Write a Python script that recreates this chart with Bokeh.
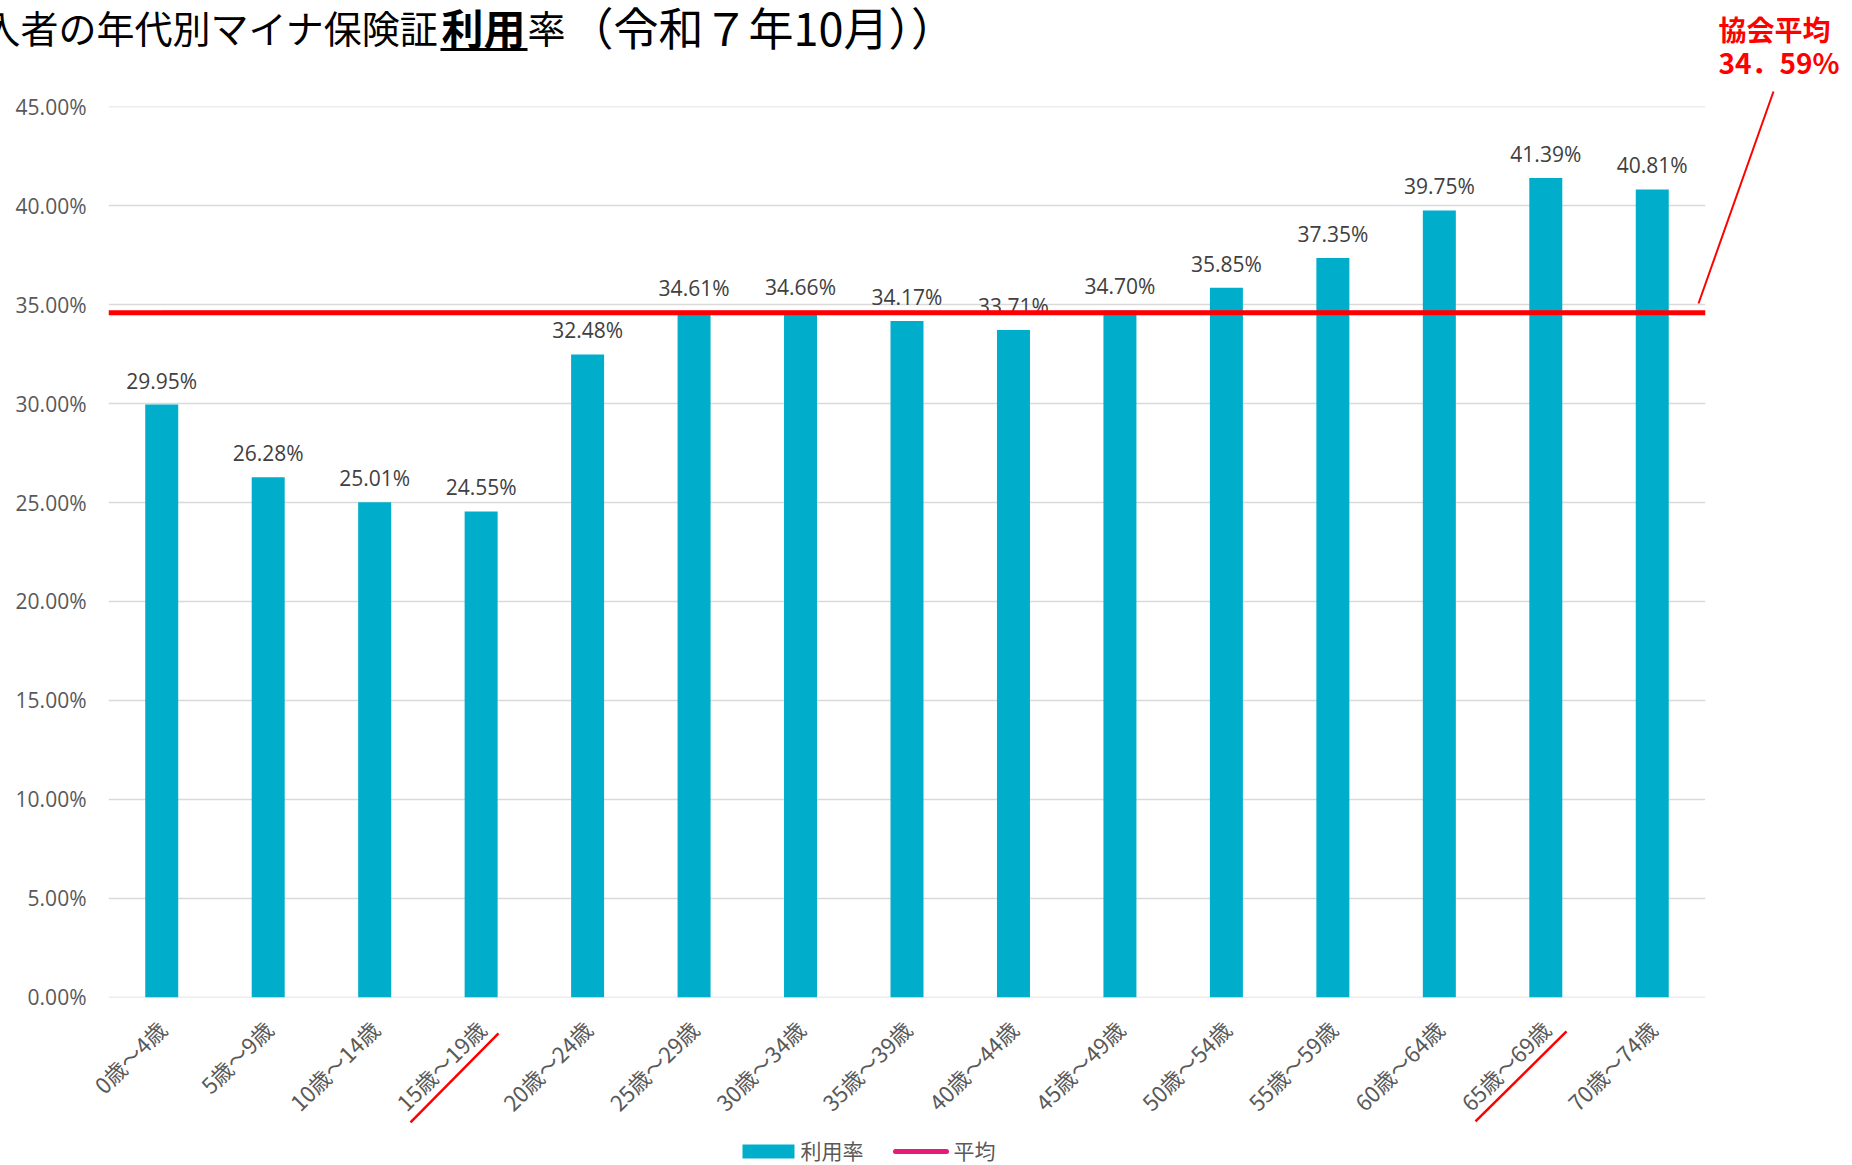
import math
from bokeh.plotting import figure
from bokeh.models import (FactorRange, Range1d, FixedTicker, PrintfTickFormatter, Span,
                          ColumnDataSource)
from bokeh.core.properties import value
from bokeh.embed import file_html
from bokeh.resources import INLINE

# ---------------- data ----------------
categories = ["0歳～4歳", "5歳～9歳", "10歳～14歳", "15歳～19歳", "20歳～24歳",
              "25歳～29歳", "30歳～34歳", "35歳～39歳", "40歳～44歳", "45歳～49歳",
              "50歳～54歳", "55歳～59歳", "60歳～64歳", "65歳～69歳", "70歳～74歳"]
usage_rate = [29.95, 26.28, 25.01, 24.55, 32.48, 34.61, 34.66, 34.17, 33.71, 34.70,
              35.85, 37.35, 39.75, 41.39, 40.81]
average_rate = 34.59
y_ticks = [0, 5, 10, 15, 20, 25, 30, 35, 40, 45]
series_names = ["利用率", "平均"]
title_parts = ["入者の年代別マイナ保険証", "利用", "率", "（令和７年10月））"]
note_lines = ["協会平均", "34．59%"]

# ---------------- geometry (window px) ----------------
W, H = 1852, 1165
FL, FR, FT, FB = 108, 1705, 106, 997   # frame edges in window px
NCAT = len(categories)
YMAX = 45
EPS = 0.002


def xd(px):
    return (px - FL) / (FR - FL) * NCAT


def yd(py):
    return (FB - py) / (FB - FT) * YMAX


BAR = "#00AECB"
PINK = "#E8197B"
GRAY = "#595959"
RED = "#FF0000"
JP = "Noto Sans CJK JP"

p = figure(width=W, height=H, x_range=FactorRange(factors=categories, range_padding=0),
           y_range=Range1d(-EPS, YMAX + EPS), output_backend="svg", toolbar_location=None,
           min_border_left=FL, min_border_top=FT,
           min_border_right=W - FR, min_border_bottom=H - FB)
p.outline_line_color = None
p.background_fill_color = "white"
p.border_fill_color = "white"

# axes
p.yaxis.ticker = FixedTicker(ticks=y_ticks)
p.yaxis.formatter = PrintfTickFormatter(format="%.2f%%")
p.yaxis.axis_line_color = None
p.yaxis.major_tick_line_color = None
p.yaxis.minor_tick_line_color = None
p.yaxis.major_label_standoff = 16
p.yaxis.major_label_text_font = "Open Sans"
p.yaxis.major_label_text_font_size = "21px"
p.yaxis.major_label_text_color = GRAY

p.xaxis.axis_line_color = None
p.xaxis.major_tick_line_color = None
p.xaxis.minor_tick_line_color = None
p.xaxis.major_label_orientation = math.pi / 4
p.xaxis.major_label_standoff = 21
p.xaxis.major_label_text_font = JP
p.xaxis.major_label_text_font_size = "22px"
p.xaxis.major_label_text_color = GRAY

p.xgrid.grid_line_color = None
p.ygrid.grid_line_color = "#D9D9D9"
p.ygrid.grid_line_width = 1.5

src = ColumnDataSource(dict(cat=categories, val=usage_rate,
                            lab=["%.2f%%" % v for v in usage_rate],
                            avg=[average_rate] * NCAT))

r_bar = p.vbar(x="cat", top="val", width=0.31, source=src, fill_color=BAR, line_color=None)
p.text(x="cat", y="val", text="lab", source=src, text_align="center", text_baseline="middle",
       y_offset=-24, text_font=value("Open Sans"), text_font_size="21px", text_color="#404040")
r_avg = p.line(x="cat", y="avg", source=src, line_color=PINK, line_width=4)

p.add_layout(Span(location=average_rate, dimension="width", line_color=RED, line_width=5))

# legend (drawn at overlay level, below the axis labels)
p.rect(x=[xd(768)], y=[yd(1151)], width=52, height=14, width_units="screen",
       height_units="screen", fill_color=BAR, line_color=None, level="overlay")
p.segment(x0=[xd(895)], y0=[yd(1151)], x1=[xd(946)], y1=[yd(1151)], line_color=PINK,
          line_width=5, line_cap="round", level="overlay")
p.text(x=[xd(800), xd(953)], y=[yd(1150), yd(1150)], text=series_names,
       text_baseline="middle", text_font=value(JP), text_font_size="21px",
       text_color=GRAY, level="overlay")

# title (overlay level so it may sit outside the frame)
p.text(x=[xd(-18), xd(527)], y=[yd(26), yd(26)], text=[title_parts[0], title_parts[2]],
       text_baseline="middle", text_font=value(JP), text_font_size="38px",
       text_color="black", level="overlay")
p.text(x=[xd(441)], y=[yd(26)], text=[title_parts[1]], text_baseline="middle",
       text_font=value(JP), text_font_size="42px", text_font_style="bold",
       text_color="black", level="overlay")
p.text(x=[xd(568)], y=[yd(26)], text=[title_parts[3]], text_baseline="middle",
       text_font=value(JP), text_font_size="45px", text_color="black", level="overlay")
p.segment(x0=[xd(440)], y0=[yd(49)], x1=[xd(527)], y1=[yd(49)],
          line_color="black", line_width=3, level="overlay")

# average note
p.text(x=[xd(1718), xd(1718)], y=[yd(28), yd(61)], text=note_lines, text_baseline="middle",
       text_font=value(JP), text_font_size="28px", text_font_style="bold",
       text_color=RED, level="overlay")
p.segment(x0=[xd(1773)], y0=[yd(91)], x1=[xd(1698)], y1=[yd(303)],
          line_color=RED, line_width=2, level="overlay")

# red underlines of highlighted categories
p.segment(x0=[xd(410), xd(1475)], y0=[yd(1122), yd(1121)],
          x1=[xd(498), xd(1566)], y1=[yd(1033), yd(1031)],
          line_color=RED, line_width=2.5, level="overlay")

open("out.html", "w").write(file_html(p, INLINE))
